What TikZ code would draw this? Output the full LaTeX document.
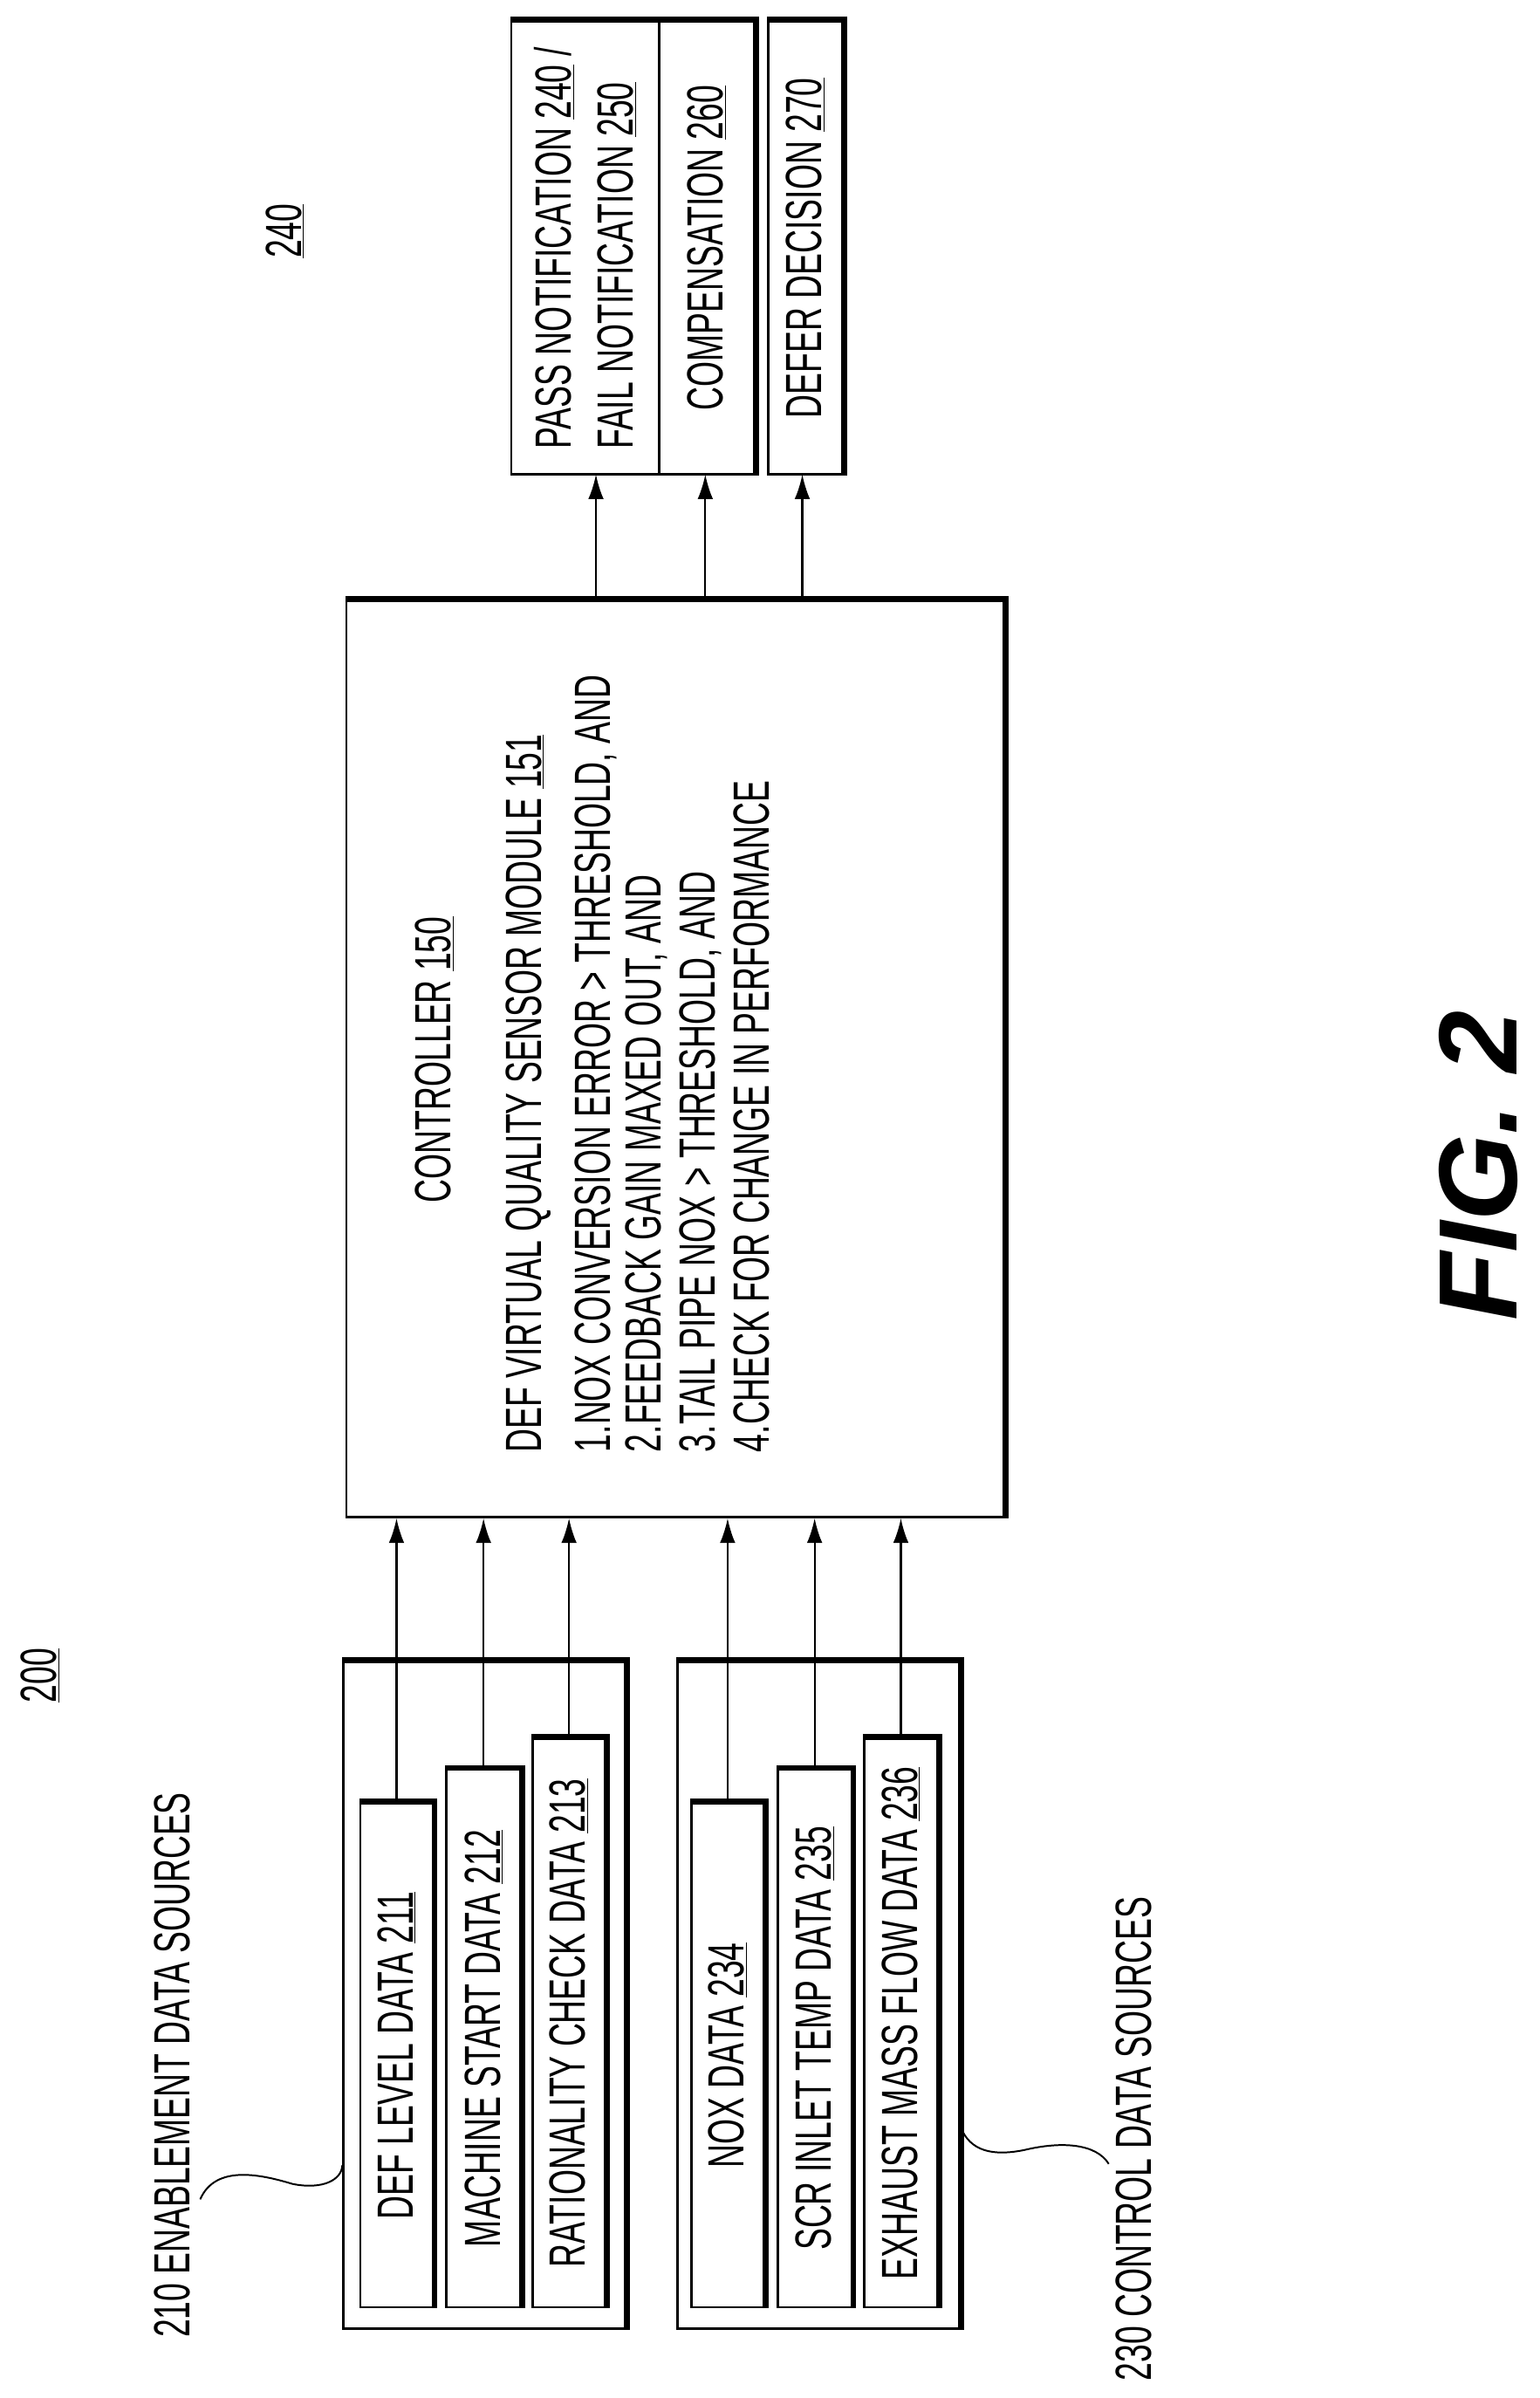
\documentclass[tikz,border=0pt]{standalone}
\usepackage{fontspec}
\setmainfont{Liberation Sans}[FakeStretch=0.64]
\newfontfamily\figfont{Liberation Sans}[BoldItalicFont={Liberation Sans Bold Italic}]
\usetikzlibrary{fit,arrows.meta}
\begin{document}
\begin{tikzpicture}[x=0.05cm,y=-0.05cm,
  box/.style={draw,line width=2.2pt,inner sep=0pt},
  txt/.style={rotate=90,inner sep=0pt,font=\fontsize{47}{57}\selectfont},
  arr/.style={line width=1.8pt,-{Latex[length=0.8cm,width=0.5cm]}},
  lead/.style={line width=1.6pt}]
\useasboundingbox (0,0) rectangle (1000,1557);
\newcommand{\shadowit}[1]{\draw[line width=3.5pt] ([shift={(0,1.5pt)}]#1.north west) -- ([shift={(1.5pt,1.5pt)}]#1.north east) -- ([shift={(1.5pt,0)}]#1.south east);}
% controller
\node[box,fit={(225,390) (652,985)}] (ctrl) {};
\shadowit{ctrl}
\node[txt] (ct) at (282,688) {CONTROLLER \underline{150}};
\node[txt,anchor=west] (l0) at (343,943) {DEF VIRTUAL QUALITY SENSOR MODULE \underline{151}};
\node[txt,anchor=west] (l1) at (387,943) {1.NOX CONVERSION ERROR > THRESHOLD, AND};
\node[txt,anchor=west] (l2) at (420,943) {2.FEEDBACK GAIN MAXED OUT, AND};
\node[txt,anchor=west] (l3) at (455,943) {3.TAIL PIPE NOX > THRESHOLD, AND};
\node[txt,anchor=west] (l4) at (488,943) {4.CHECK FOR CHANGE IN PERFORMANCE};
% outputs
\node[box,fit={(332,14) (428,308)}] (pass) {};
\node[box,fit={(428,14) (490,308)}] (comp) {};
\draw[line width=3.5pt] ([shift={(0,1.5pt)}]pass.north west) -- ([shift={(1.5pt,1.5pt)}]comp.north east) -- ([shift={(1.5pt,0)}]comp.south east);
\node[box,fit={(499,14) (547,308)}] (defer) {};
\shadowit{defer}
\node[txt,align=left] at (pass.center) {PASS NOTIFICATION \underline{240} /\\FAIL NOTIFICATION \underline{250}};
\node[txt] at (comp.center) {COMPENSATION \underline{260}};
\node[txt] at (defer.center) {DEFER DECISION \underline{270}};
\coordinate (o1) at (387,308); \coordinate (o2) at (458,308); \coordinate (o3) at (521,308);
\draw[arr] (o1 |- ctrl.north) -- (o1);
\draw[arr] (o2 |- ctrl.north) -- (o2);
\draw[arr] (o3 |- ctrl.north) -- (o3);
% source groups
\node[box,fit={(223,1079) (406,1512)}] (g1) {};
\node[box,fit={(440,1079) (623,1512)}] (g2) {};
\node[box,fit={(234,1171) (281,1498)}] (s1) {};
\node[box,fit={(290,1149) (338,1498)}] (s2) {};
\node[box,fit={(346,1129) (393,1498)}] (s3) {};
\node[box,fit={(449,1171) (496,1498)}] (s4) {};
\node[box,fit={(505,1149) (553,1498)}] (s5) {};
\node[box,fit={(561,1129) (609,1498)}] (s6) {};
\foreach \n in {g1,g2,s1,s2,s3,s4,s5,s6} {\shadowit{\n}}
\node[txt] at (s1.center) {DEF LEVEL DATA \underline{211}};
\node[txt] at (s2.center) {MACHINE START DATA \underline{212}};
\node[txt] at (s3.center) {RATIONALITY CHECK DATA \underline{213}};
\node[txt] at (s4.center) {NOX DATA \underline{234}};
\node[txt] at (s5.center) {SCR INLET TEMP DATA \underline{235}};
\node[txt] at (s6.center) {EXHAUST MASS FLOW DATA \underline{236}};
\foreach \n in {s1,s2,s3,s4,s5,s6} {\draw[arr] (\n.north) -- (\n.north |- ctrl.south);}
% labels
\node[txt,anchor=west] (lab210) at (112,1518) {210 ENABLEMENT DATA SOURCES};
\node[txt,anchor=west] (lab230) at (736,1546) {230 CONTROL DATA SOURCES};
\coordinate (c210) at (130,1428);
\coordinate (c230) at (720,1405);
\draw[lead] (c210) .. controls (140,1405) and (170,1412) .. (190,1418) .. controls (210,1422) and (222,1415) .. (g1.west |- 0,1406);
\draw[lead] (g2.east |- 0,1381) .. controls (630,1397) and (645,1400) .. (665,1396) .. controls (690,1390) and (712,1392) .. (c230);
\node[txt] (n200) at (26,1088) {\underline{200}};
\node[txt] (n240) at (185,150) {\underline{240}};
\node[rotate=90,inner sep=0pt,anchor=base] (fig) at (985,757) {\figfont\fontsize{103}{110}\selectfont\bfseries\itshape FIG. 2};
\end{tikzpicture}
\end{document}
